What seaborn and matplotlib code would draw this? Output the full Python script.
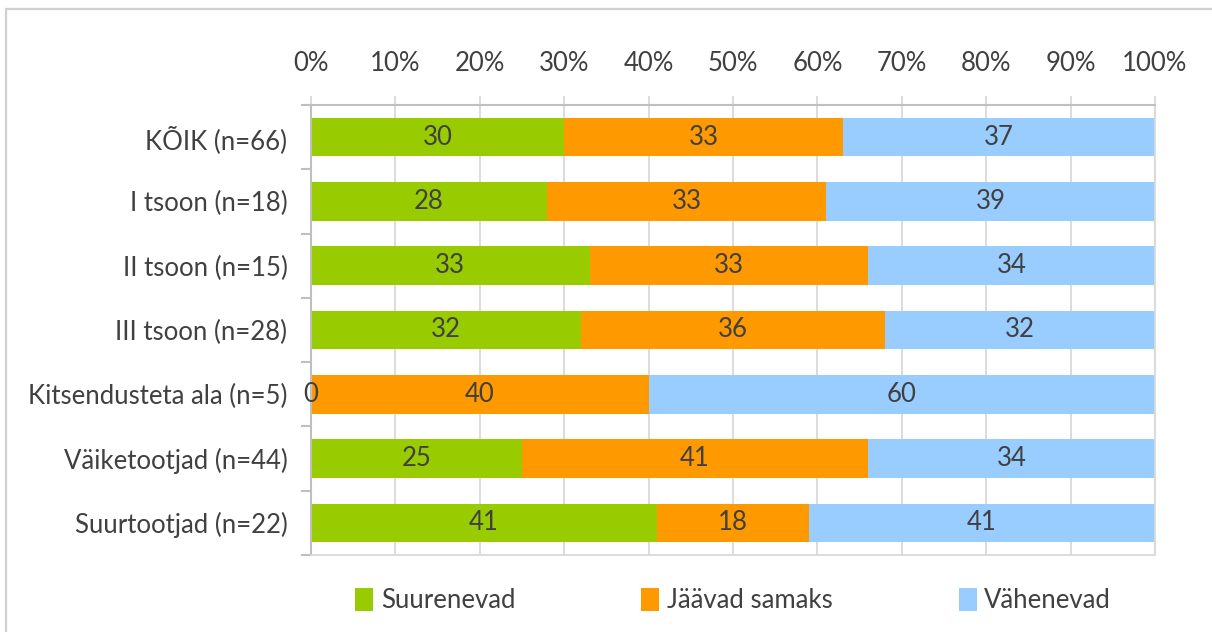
import matplotlib
matplotlib.use("Agg")
import matplotlib.pyplot as plt
import seaborn as sns
import pandas as pd
import numpy as np
from matplotlib.patches import Patch
from matplotlib.lines import Line2D
from matplotlib.ticker import FixedLocator, PercentFormatter

# Data
categories = ["KÕIK (n=66)", "I tsoon (n=18)", "II tsoon (n=15)", "III tsoon (n=28)",
              "Kitsendusteta ala (n=5)", "Väiketootjad (n=44)", "Suurtootjad (n=22)"]
series_names = ["Suurenevad", "Jäävad samaks", "Vähenevad"]
suurenevad = [30, 28, 33, 32, 0, 25, 41]
jaavad_samaks = [33, 33, 33, 36, 40, 41, 18]
vahenevad = [37, 39, 34, 32, 60, 34, 41]
x_ticks = list(range(0, 101, 10))

colors = ["#99CC00", "#FF9900", "#99CCFF"]
text_color = "#404040"

sns.set_theme(style="white")
plt.rcParams["font.family"] = ["Lato", "DejaVu Sans"]
FS = 18.5

df = pd.DataFrame({"kategooria": categories, "Suurenevad": suurenevad,
                   "Jäävad samaks": jaavad_samaks, "Vähenevad": vahenevad})
values = df[series_names].to_numpy(dtype=float)
cum = values.cumsum(axis=1)
starts = cum - values

fig = plt.figure(figsize=(12.12, 6.32), dpi=100)
ax = fig.add_axes([0.2566, 0.1218, 0.6964, 0.7121])

# Stacked bars: draw cumulative totals from the longest down
for j in reversed(range(len(series_names))):
    sns.barplot(x=cum[:, j], y=df["kategooria"], orient="h", color=colors[j],
                saturation=1, width=0.6, ax=ax, linewidth=0, zorder=2)

# Segment value labels
for i in range(len(categories)):
    for j in range(len(series_names)):
        ax.text(starts[i, j] + values[i, j] / 2, i, f"{values[i, j]:g}",
                ha="center", va="center", fontsize=FS, color=text_color, zorder=3)

ax.set_xlim(0, 100)
ax.set_ylim(len(categories) - 0.5, -0.5)
ax.xaxis.set_major_locator(FixedLocator(x_ticks))
ax.xaxis.set_major_formatter(PercentFormatter(decimals=0))
ax.xaxis.tick_top()
ax.set_xlabel("")
ax.set_ylabel("")

ax.set_axisbelow(True)
ax.xaxis.grid(True, color="#D9D9D9", linewidth=1.3, zorder=0)
ax.yaxis.grid(False)

for side in ["left", "top"]:
    ax.spines[side].set_color("#BFBFBF")
    ax.spines[side].set_linewidth(1.5)
for side in ["right", "bottom"]:
    ax.spines[side].set_color("#D9D9D9")
    ax.spines[side].set_linewidth(1.3)

ax.tick_params(axis="x", which="major", top=True, bottom=False, length=6.5, width=1.3,
               color="#D9D9D9", pad=14.5, labelsize=FS, labelcolor=text_color)
ax.tick_params(axis="y", which="major", left=False, length=0, pad=17,
               labelsize=FS, labelcolor=text_color)
ax.yaxis.set_minor_locator(FixedLocator(np.arange(-0.5, len(categories), 1.0)))
ax.tick_params(axis="y", which="minor", left=True, length=7, width=1.5, color="#BFBFBF")

# Legend below the plot
handles = [Patch(facecolor=c, edgecolor="none") for c in colors]
fig.legend(handles, series_names, loc="center", bbox_to_anchor=(0.605, 0.05), ncol=3,
           frameon=False, fontsize=FS, labelcolor=text_color, handlelength=0.7,
           handleheight=1.0, handletextpad=0.3, columnspacing=4.9)

# Chart area border (left and top edges)
fig.add_artist(Line2D([6 / 1212, 6 / 1212], [0, 1 - 9 / 632], transform=fig.transFigure,
                      color="#D0D0D0", linewidth=1.6))
fig.add_artist(Line2D([6 / 1212, 1], [1 - 9 / 632, 1 - 9 / 632], transform=fig.transFigure,
                      color="#D0D0D0", linewidth=1.6))

fig.savefig("out.png", dpi=100, facecolor="white")
